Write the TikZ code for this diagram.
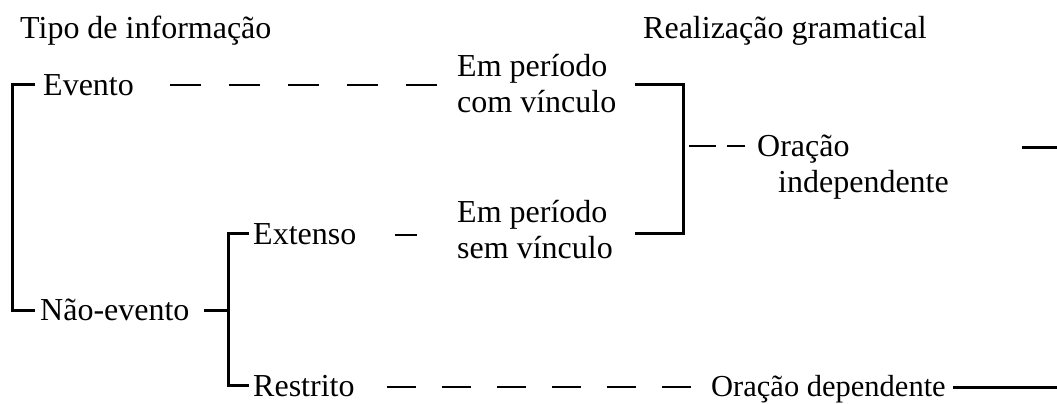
\documentclass[tikz,border=0pt]{standalone}
\usepackage{fontspec}
\setmainfont{Liberation Serif}
\usepackage{tikz}
\usetikzlibrary{calc}

\begin{document}
\begin{tikzpicture}[x=1pt,y=-1pt,
    lbl/.style={inner sep=0pt,anchor=base west,font=\fontsize{32}{36}\selectfont},
    brk/.style={line width=3pt},
    dsh/.style={line width=1.4pt}]
  \useasboundingbox (0,0) rectangle (1057,404);

  % headers
  \node[lbl] (tipo) at (20,38) {Tipo de informação};
  \node[lbl] (realiz) at (643,38) {Realização gramatical};

  % tipo de informacao
  \node[lbl] (evento) at (43,95) {Evento};
  \node[lbl] (naoev) at (40,320) {Não-evento};
  \node[lbl] (extenso) at (253,244) {Extenso};
  \node[lbl] (restrito) at (253,396) {Restrito};

  % realizacao
  \node[lbl,anchor=north west,align=left] (comvinc) at (457,54) {Em período\\com vínculo};
  \node[lbl,anchor=north west,align=left] (semvinc) at (457,200) {Em período\\sem vínculo};
  \node[lbl,anchor=north west,align=left] (orind) at (757,135) {Oração\\\hspace*{21pt}independente};
  \node[lbl,font=\fontsize{30.5}{36}\selectfont] (ordep) at (711,396) {Oração dependente};

  % bracket ends
  \coordinate (evL) at (35,84);
  \coordinate (nevL) at (35,310);
  \coordinate (nevR) at (204,310);
  \coordinate (extL) at (249,233);
  \coordinate (resL) at (249,385);
  \coordinate (cvR) at (635,84);
  \coordinate (svR) at (635,233);
  \coordinate (oiL) at (689,146);
  \coordinate (oiR) at (1022,147);
  \coordinate (odR) at (953,387);
  \coordinate (edge1) at (1057,147);
  \coordinate (edge2) at (1057,387);

  \draw[brk] (evL) -| (12,310) -- (nevL);
  \draw[brk] (nevR) -- (228,310);
  \draw[brk] (extL) -| (228,385) -- (resL);
  \draw[brk] (cvR) -| (683,233) -- (svR);
  \draw[brk] (oiR) -- (edge1);
  \draw[brk] (odR) -- (edge2);

  % tracejados
  \draw[dsh,dash pattern=on 31pt off 28pt] (170,85) -- (437,85);
  \draw[dsh] (395,235) -- (417,235);
  \draw[dsh,dash pattern=on 29pt off 26pt] (387,387) -- (691,387);
  \draw[dsh,dash pattern=on 27pt off 11pt] (oiL) -- (745,146);
\end{tikzpicture}
\end{document}
